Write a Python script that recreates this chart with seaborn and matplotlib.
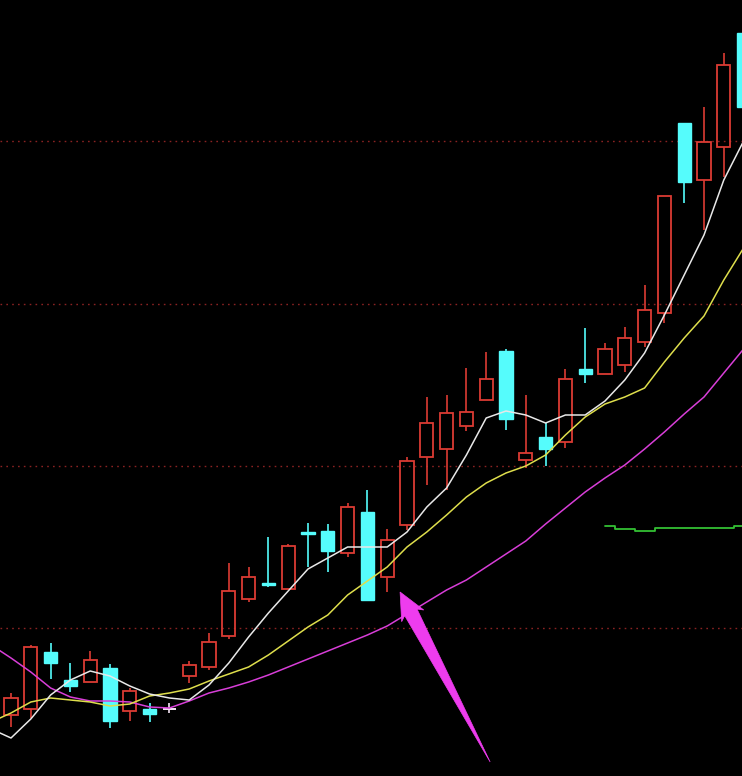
import numpy as np
import pandas as pd
import seaborn as sns
import matplotlib
matplotlib.use("Agg")
import matplotlib.pyplot as plt
from matplotlib.patches import Polygon
from matplotlib.transforms import IdentityTransform

# ---------------- data (price units) ----------------
opens  = [61, 67, 124, 96, 94, 108, 65, 67, 67.5, 100, 109, 140, 177, 193, 187, 244, 245, 223, 264, 199,
          251, 319, 327, 350, 376, 425, 316, 339, 334, 407, 402, 411, 434, 463, 653, 596, 629, 743]
closes = [78, 129, 113, 90, 116, 55, 85, 62, 67.5, 111, 134, 185, 199, 191, 230, 242, 225, 269, 176, 236,
          315, 353, 363, 364, 397, 357, 323, 327, 397, 402, 427, 438, 466, 580, 594, 634, 711, 669]
highs  = [83, 131, 133, 113, 125, 112, 88, 73, 73, 115, 143, 213, 209, 239, 232, 253, 252, 273, 286, 247,
          319, 379, 381, 408, 424, 427, 381, 353, 407, 448, 433, 449, 491, 580, 653, 669, 723, 743]
lows   = [49, 58, 97, 84, 94, 48, 55, 54, 63, 93, 106, 137, 174, 189, 187, 209, 204, 219, 176, 184,
          246, 291, 286, 345, 376, 346, 308, 310, 328, 393, 402, 404, 429, 453, 573, 546, 599, 669]

# moving averages, starting one bar before the first visible candle
ma_short = [47, 38, 57, 81, 96, 105, 100, 90, 82, 78, 76, 91, 113, 139, 163, 185, 207, 218, 229, 229, 229,
            244, 269, 288, 321, 358, 365, 361, 353, 361, 361, 375, 396, 423, 461, 501, 541, 596, 635]
ma_mid   = [54, 63, 74, 78, 76, 74, 70, 72, 80, 83, 87, 95, 102, 109, 121, 135, 149, 161, 181, 195, 209,
            229, 244, 261, 279, 293, 303, 310, 321, 341, 359, 372, 379, 388, 414, 438, 460, 496, 528]
ma_long  = [131, 118, 104, 88, 79, 75, 75, 74, 69, 68, 75, 83, 88, 94, 101, 109, 117, 125, 133, 141, 150,
            162, 174, 186, 196, 209, 222, 235, 252, 268, 284, 298, 311, 327, 344, 362, 379, 403, 427]
# indicator line on the right side (bars 30..37)
green_start = 30
green_vals = [250, 247, 245, 248, 248, 248, 248, 250]

grid_levels = [148, 310, 472, 635]

# arrow annotation: tip near bar 19.65, tail near bar 24.2
arrow_tip = (19.65, 184)
arrow_tail = (24.2, 14)

# ---------------- style ----------------
RED = "#dc3b33"
CYAN = "#55fcfc"
WHITE = "#e8e8e8"
YELLOW = "#dede4c"
MAGENTA = "#d83ed8"
ARROW = "#ee3cee"
GREEN = "#33c033"
GRID = "#8a2222"

sns.set_style("dark", {"axes.facecolor": "black", "figure.facecolor": "black"})

W, H = 742, 776
fig = plt.figure(figsize=(W / 100, H / 100), dpi=100)
ax = fig.add_axes([0, 0, 1, 1])
ax.set_facecolor("black")

n = len(opens)
x = np.arange(n)
o = np.array(opens, float); c = np.array(closes, float)
h = np.array(highs, float); l = np.array(lows, float)

ax.set_xlim(-11 / 19.8, (W - 11) / 19.8)
ax.set_ylim(0, H)

for g in grid_levels:
    ax.axhline(g, color=GRID, lw=1.0, linestyle=(0, (1.2, 3.0)), zorder=1)

bw = 0.66
up = c > o
down = c < o
flat = c == o

# up candles: hollow red
top = np.maximum(o, c); bot = np.minimum(o, c)
ax.vlines(x[up], top[up], h[up], color=RED, lw=1.2, zorder=2)
ax.vlines(x[up], l[up], bot[up], color=RED, lw=1.2, zorder=2)
ax.bar(x[up], (c - o)[up], bottom=o[up], width=bw, facecolor="none",
       edgecolor=RED, linewidth=1.3, zorder=3)
# down candles: filled cyan
ax.vlines(x[down], l[down], h[down], color=CYAN, lw=1.2, zorder=2)
ax.bar(x[down], (o - c)[down], bottom=c[down], width=bw, facecolor=CYAN,
       edgecolor=CYAN, linewidth=1.0, zorder=3)
# doji
ax.vlines(x[flat], l[flat], h[flat], color="#f4e4f4", lw=1.2, zorder=2)
ax.hlines(o[flat], x[flat] - bw / 2, x[flat] + bw / 2, color="#f4e4f4", lw=1.4, zorder=3)

ma_x = np.arange(-1, n)
for vals, col in [(ma_long, MAGENTA), (ma_mid, YELLOW), (ma_short, WHITE)]:
    sns.lineplot(x=ma_x, y=vals, ax=ax, color=col, lw=1.1, sort=False,
                 estimator=None, zorder=4)

gx = np.arange(green_start, green_start + len(green_vals))
sns.lineplot(x=gx, y=green_vals, ax=ax, color=GREEN, lw=1.3, drawstyle="steps-mid",
             estimator=None, zorder=4)

# arrow polygon built in display space from the two annotation anchors
tip = ax.transData.transform(arrow_tip)
tail = ax.transData.transform(arrow_tail)
d = tail - tip
L = np.hypot(*d)
u = d / L
nrm = np.array([u[1], -u[0]])
head_len, head_hw, shaft_hw = 27, 12.5, 7
pts = [tip,
       tip + u * head_len + nrm * head_hw,
       tip + u * (head_len - 4) + nrm * shaft_hw,
       tail,
       tip + u * (head_len - 4) - nrm * shaft_hw,
       tip + u * head_len - nrm * head_hw]
ax.add_patch(Polygon(pts, closed=True, transform=IdentityTransform(),
                     facecolor=ARROW, edgecolor=ARROW, lw=0.5, zorder=6))

ax.set_xticks([]); ax.set_yticks([])
ax.set_xlabel(""); ax.set_ylabel("")
for s in ax.spines.values():
    s.set_visible(False)
ax.grid(False)

fig.savefig("out.png", dpi=100, facecolor="black")
